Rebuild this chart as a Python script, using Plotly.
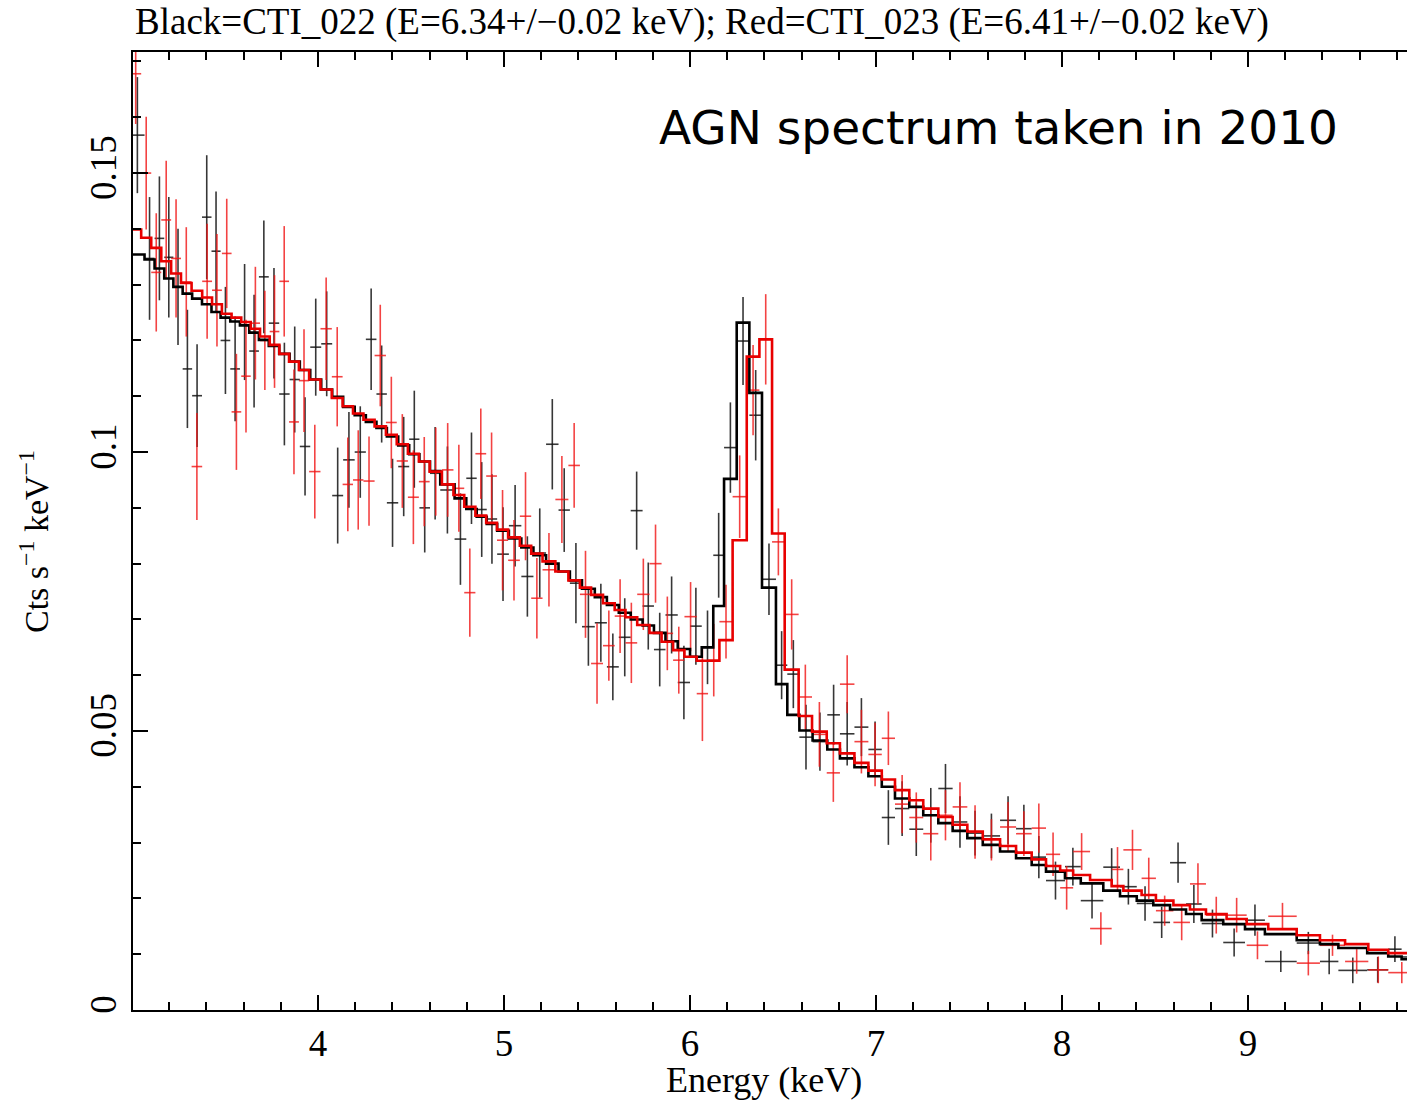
import plotly.graph_objects as go

# ---------------------------------------------------------------------------
# CTI_022 (black): channel bin edges [keV], folded model, data rate and 1-sigma error
# ---------------------------------------------------------------------------
black_edges = [
    2.990, 3.067, 3.121, 3.173, 3.222, 3.272, 3.323, 3.376, 3.427, 3.476,
    3.528, 3.580, 3.630, 3.682, 3.735, 3.791, 3.847, 3.902, 3.958, 4.017,
    4.076, 4.135, 4.197, 4.257, 4.314, 4.370, 4.431, 4.490, 4.545, 4.602,
    4.657, 4.734, 4.797, 4.853, 4.907, 4.963, 5.026, 5.093, 5.158, 5.226,
    5.293, 5.354, 5.419, 5.488, 5.553, 5.617, 5.681, 5.745, 5.806, 5.868,
    5.934, 6.000, 6.063, 6.125, 6.183, 6.251, 6.319, 6.387, 6.462, 6.523,
    6.588, 6.659, 6.738, 6.806, 6.884, 6.959, 7.031, 7.102, 7.179, 7.254,
    7.335, 7.412, 7.491, 7.574, 7.667, 7.753, 7.837, 7.914, 8.016, 8.101,
    8.222, 8.312, 8.402, 8.491, 8.581, 8.667, 8.751, 8.867, 8.984, 9.091,
    9.262, 9.387, 9.486, 9.641, 9.754, 9.826, 9.950,
]
black_model = [
    0.1354, 0.1345, 0.1329, 0.1311, 0.1296, 0.1284, 0.1275, 0.1265, 0.1251, 0.1241,
    0.1234, 0.1227, 0.1214, 0.1201, 0.1190, 0.1176, 0.1162, 0.1147, 0.1130, 0.1112,
    0.1099, 0.1081, 0.1066, 0.1054, 0.1043, 0.1028, 0.1012, 0.0996, 0.0983, 0.0966,
    0.0942, 0.0917, 0.0898, 0.0884, 0.0871, 0.0859, 0.0845, 0.0829, 0.0815, 0.0800,
    0.0786, 0.0770, 0.0755, 0.0740, 0.0726, 0.0712, 0.0700, 0.0689, 0.0676, 0.0661,
    0.0647, 0.0633, 0.0650, 0.0724, 0.0952, 0.1232, 0.1106, 0.0757, 0.0584, 0.0529,
    0.0501, 0.0483, 0.0467, 0.0451, 0.0435, 0.0419, 0.0400, 0.0379, 0.0364, 0.0349,
    0.0335, 0.0321, 0.0308, 0.0296, 0.0284, 0.0272, 0.0260, 0.0248, 0.0236, 0.0227,
    0.0214, 0.0204, 0.0196, 0.0188, 0.0180, 0.0172, 0.0161, 0.0154, 0.0145, 0.0136,
    0.0125, 0.0118, 0.0111, 0.0102, 0.0096, 0.0091,
]
black_rate = [
    0.1568, 0.1347, 0.1383, 0.1349, 0.1296, 0.1149, 0.1101, 0.1421, 0.1360, 0.1200,
    0.1149, 0.1233, 0.1181, 0.1314, 0.1231, 0.1104, 0.1130, 0.1010, 0.1188, 0.1194,
    0.0922, 0.0986, 0.1000, 0.1202, 0.1104, 0.0909, 0.0974, 0.1023, 0.0900, 0.0962,
    0.0932, 0.0844, 0.0953, 0.0897, 0.0880, 0.0817, 0.0868, 0.0777, 0.0819, 0.1014,
    0.0896, 0.0765, 0.0687, 0.0694, 0.0615, 0.0668, 0.0895, 0.0724, 0.0646, 0.0708,
    0.0587, 0.0688, 0.0650, 0.0815, 0.1008, 0.1199, 0.1066, 0.0772, 0.0618, 0.0602,
    0.0489, 0.0481, 0.0529, 0.0495, 0.0507, 0.0467, 0.0345, 0.0361, 0.0324, 0.0349,
    0.0397, 0.0337, 0.0317, 0.0312, 0.0340, 0.0325, 0.0274, 0.0232, 0.0257, 0.0196,
    0.0256, 0.0221, 0.0191, 0.0157, 0.0264, 0.0190, 0.0155, 0.0121, 0.0161, 0.0087,
    0.0120, 0.0087, 0.0071, 0.0072, 0.0109, 0.0095,
]
black_err = [
    0.0104, 0.0110, 0.0111, 0.0108, 0.0104, 0.0106, 0.0092, 0.0111, 0.0107, 0.0096,
    0.0094, 0.0104, 0.0101, 0.0101, 0.0099, 0.0092, 0.0095, 0.0088, 0.0087, 0.0094,
    0.0086, 0.0086, 0.0082, 0.0091, 0.0087, 0.0079, 0.0089, 0.0087, 0.0080, 0.0083,
    0.0078, 0.0082, 0.0082, 0.0085, 0.0080, 0.0084, 0.0073, 0.0072, 0.0080, 0.0081,
    0.0075, 0.0072, 0.0070, 0.0070, 0.0060, 0.0070, 0.0070, 0.0078, 0.0066, 0.0069,
    0.0066, 0.0069, 0.0066, 0.0076, 0.0081, 0.0079, 0.0081, 0.0064, 0.0061, 0.0061,
    0.0058, 0.0052, 0.0054, 0.0057, 0.0052, 0.0050, 0.0049, 0.0049, 0.0048, 0.0049,
    0.0044, 0.0046, 0.0040, 0.0040, 0.0043, 0.0043, 0.0038, 0.0034, 0.0034, 0.0032,
    0.0034, 0.0032, 0.0031, 0.0028, 0.0036, 0.0034, 0.0025, 0.0025, 0.0028, 0.0019,
    0.0020, 0.0023, 0.0023, 0.0023, 0.0023, 0.0022,
]

# ---------------------------------------------------------------------------
# CTI_023 (red)
# ---------------------------------------------------------------------------
red_edges = [
    2.990, 3.049, 3.103, 3.157, 3.210, 3.263, 3.320, 3.377, 3.430, 3.483,
    3.535, 3.587, 3.638, 3.688, 3.740, 3.792, 3.844, 3.897, 3.952, 4.013,
    4.074, 4.132, 4.188, 4.244, 4.304, 4.365, 4.423, 4.483, 4.542, 4.600,
    4.666, 4.728, 4.786, 4.846, 4.904, 4.962, 5.022, 5.085, 5.146, 5.207,
    5.276, 5.346, 5.408, 5.468, 5.532, 5.595, 5.653, 5.716, 5.782, 5.847,
    5.909, 5.970, 6.036, 6.097, 6.158, 6.229, 6.305, 6.373, 6.441, 6.509,
    6.584, 6.656, 6.735, 6.806, 6.884, 6.959, 7.031, 7.102, 7.179, 7.254,
    7.335, 7.412, 7.491, 7.574, 7.667, 7.753, 7.837, 7.914, 7.990, 8.060,
    8.151, 8.267, 8.330, 8.428, 8.505, 8.599, 8.688, 8.774, 8.885, 8.993,
    9.109, 9.262, 9.387, 9.522, 9.647, 9.754, 9.900,
]
red_model = [
    0.1399, 0.1384, 0.1366, 0.1342, 0.1320, 0.1303, 0.1289, 0.1277, 0.1265, 0.1248,
    0.1241, 0.1233, 0.1221, 0.1207, 0.1192, 0.1176, 0.1162, 0.1147, 0.1130, 0.1112,
    0.1097, 0.1082, 0.1069, 0.1058, 0.1046, 0.1031, 0.1014, 0.0997, 0.0983, 0.0965,
    0.0942, 0.0923, 0.0902, 0.0886, 0.0873, 0.0861, 0.0847, 0.0832, 0.0818, 0.0804,
    0.0786, 0.0770, 0.0757, 0.0744, 0.0729, 0.0717, 0.0704, 0.0690, 0.0676, 0.0660,
    0.0645, 0.0633, 0.0626, 0.0626, 0.0663, 0.0842, 0.1171, 0.1202, 0.0854, 0.0610,
    0.0527, 0.0499, 0.0478, 0.0460, 0.0443, 0.0429, 0.0413, 0.0394, 0.0376, 0.0361,
    0.0346, 0.0332, 0.0320, 0.0306, 0.0294, 0.0282, 0.0270, 0.0258, 0.0250, 0.0242,
    0.0233, 0.0222, 0.0214, 0.0206, 0.0196, 0.0188, 0.0180, 0.0172, 0.0163, 0.0154,
    0.0145, 0.0134, 0.0125, 0.0118, 0.0108, 0.0102,
]
red_rate = [
    0.1678, 0.1500, 0.1322, 0.1416, 0.1347, 0.1305, 0.0974, 0.1306, 0.1290, 0.1356,
    0.1072, 0.1136, 0.1231, 0.1200, 0.1216, 0.1306, 0.1054, 0.1128, 0.0965, 0.1221,
    0.1135, 0.0942, 0.0950, 0.0948, 0.1173, 0.1053, 0.0984, 0.0919, 0.0947, 0.0965,
    0.0968, 0.0935, 0.0748, 0.0997, 0.0957, 0.0842, 0.0806, 0.0885, 0.0738, 0.0789,
    0.0915, 0.0976, 0.0745, 0.0621, 0.0653, 0.0706, 0.0658, 0.0745, 0.0800, 0.0675,
    0.0627, 0.0705, 0.0567, 0.0627, 0.0696, 0.0920, 0.1111, 0.1202, 0.0839, 0.0709,
    0.0561, 0.0494, 0.0425, 0.0584, 0.0481, 0.0458, 0.0487, 0.0369, 0.0345, 0.0316,
    0.0349, 0.0364, 0.0319, 0.0305, 0.0328, 0.0316, 0.0326, 0.0279, 0.0219, 0.0284,
    0.0146, 0.0252, 0.0287, 0.0236, 0.0178, 0.0157, 0.0226, 0.0170, 0.0170, 0.0116,
    0.0168, 0.0084, 0.0116, 0.0087, 0.0072, 0.0067,
]
red_err = [
    0.0090, 0.0101, 0.0106, 0.0106, 0.0106, 0.0098, 0.0096, 0.0103, 0.0101, 0.0098,
    0.0104, 0.0101, 0.0101, 0.0089, 0.0101, 0.0099, 0.0094, 0.0092, 0.0084, 0.0092,
    0.0089, 0.0084, 0.0089, 0.0080, 0.0091, 0.0082, 0.0084, 0.0084, 0.0080, 0.0079,
    0.0084, 0.0078, 0.0079, 0.0081, 0.0078, 0.0090, 0.0072, 0.0079, 0.0072, 0.0066,
    0.0078, 0.0076, 0.0078, 0.0072, 0.0063, 0.0066, 0.0072, 0.0064, 0.0070, 0.0066,
    0.0060, 0.0062, 0.0085, 0.0065, 0.0066, 0.0074, 0.0081, 0.0081, 0.0060, 0.0063,
    0.0058, 0.0058, 0.0052, 0.0052, 0.0057, 0.0057, 0.0048, 0.0052, 0.0045, 0.0048,
    0.0045, 0.0044, 0.0048, 0.0037, 0.0045, 0.0040, 0.0044, 0.0039, 0.0039, 0.0033,
    0.0029, 0.0040, 0.0036, 0.0037, 0.0027, 0.0032, 0.0037, 0.0033, 0.0031, 0.0025,
    0.0024, 0.0022, 0.0019, 0.0022, 0.0024, 0.0019,
]

x_ticks = [4, 5, 6, 7, 8, 9]
y_ticks = [0, 0.05, 0.1, 0.15]
y_tick_text = ["0", "0.05", "0.1", "0.15"]

title_text = "Black=CTI_022 (E=6.34+/\u22120.02 keV); Red=CTI_023 (E=6.41+/\u22120.02 keV)"
note_text = "AGN spectrum taken in 2010"

for name, e, m, r, s in [("black", black_edges, black_model, black_rate, black_err),
                         ("red", red_edges, red_model, red_rate, red_err)]:
    n = len(e) - 1
    if not (len(m) == len(r) == len(s) == n):
        raise ValueError(f"{name}: {n} bins, {len(m)} model, {len(r)} rate, {len(s)} err")


def centres(edges):
    return [(a + b) / 2 for a, b in zip(edges[:-1], edges[1:])]


def half_widths(edges):
    return [(b - a) / 2 for a, b in zip(edges[:-1], edges[1:])]


SERIF = "Liberation Serif, Times New Roman, serif"
BLACK_DATA = "rgba(20,20,20,0.85)"
RED_DATA = "rgba(240,20,20,0.8)"
BLACK_LINE = "#000000"
RED_LINE = "#e80000"

fig = go.Figure()

# data points drawn as crosses: bin width horizontally, 1-sigma vertically
for edges, rate, err, colour in [(black_edges, black_rate, black_err, BLACK_DATA),
                                 (red_edges, red_rate, red_err, RED_DATA)]:
    fig.add_trace(go.Scatter(
        x=centres(edges), y=rate, mode="markers",
        marker=dict(size=2, color=colour, opacity=0),
        error_x=dict(type="data", array=half_widths(edges), width=0, thickness=1.6, color=colour),
        error_y=dict(type="data", array=err, width=0, thickness=1.6, color=colour),
        hoverinfo="skip", showlegend=False,
    ))

# folded models as histograms
for edges, model, colour in [(black_edges, black_model, BLACK_LINE),
                             (red_edges, red_model, RED_LINE)]:
    fig.add_trace(go.Scatter(
        x=edges, y=model + [model[-1]], mode="lines",
        line=dict(shape="hv", color=colour, width=2.6),
        hoverinfo="skip", showlegend=False,
    ))

axis_common = dict(
    ticks="inside", ticklen=15, tickwidth=1.8, tickcolor="black",
    showline=True, linecolor="black", linewidth=2,
    showgrid=False, zeroline=False,
    tickfont=dict(family=SERIF, size=37, color="black"),
)

fig.update_layout(
    width=1407, height=1102,
    margin=dict(l=133, r=0, t=52, b=92),
    paper_bgcolor="white", plot_bgcolor="white",
    showlegend=False,
    xaxis=dict(
        range=[3.005, 9.855], tickvals=x_ticks, mirror="ticks",
        minor=dict(dtick=0.2, tick0=3, ticks="inside", ticklen=8, tickwidth=1.6,
                   tickcolor="black", showgrid=False),
        **axis_common,
    ),
    yaxis=dict(
        range=[0, 0.1717], tickvals=y_ticks, ticktext=y_tick_text, tickangle=-90,
        mirror=False,
        minor=dict(dtick=0.01, tick0=0, ticks="inside", ticklen=8, tickwidth=1.6,
                   tickcolor="black", showgrid=False),
        **axis_common,
    ),
    annotations=[
        dict(text=title_text, xref="paper", yref="paper", x=0, y=1.0313,
             xanchor="left", yanchor="middle", showarrow=False,
             font=dict(family=SERIF, size=37, color="black")),
        dict(text="Energy (keV)", xref="paper", yref="paper", x=0.4949, y=-0.0735,
             xanchor="center", yanchor="middle", showarrow=False,
             font=dict(family=SERIF, size=36, color="black")),
        dict(text="Cts s<sup>\u22121</sup> keV<sup>\u22121</sup>", xref="paper", yref="paper",
             x=-0.0777, y=0.4885, xanchor="center", yanchor="middle", textangle=-90,
             showarrow=False, font=dict(family=SERIF, size=34, color="black")),
        dict(text=note_text, xref="paper", yref="paper", x=0.411, y=0.9217,
             xanchor="left", yanchor="middle", showarrow=False,
             font=dict(family="DejaVu Sans, Verdana, sans-serif", size=47, color="black")),
    ],
)

fig.write_html("out.html")
